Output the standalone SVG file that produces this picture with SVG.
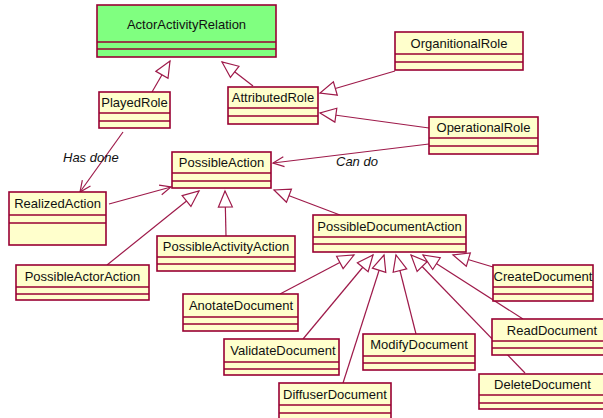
<svg xmlns="http://www.w3.org/2000/svg" width="603" height="418" viewBox="0 0 603 418">
<style>
.box{fill:#FFFFCC;stroke:#990033;stroke-width:1.6}
.green{fill:#80FF80}
.div{stroke:#990033;stroke-width:1.4}
.t{font-family:"Liberation Sans",Arial,sans-serif;font-size:13px;fill:#111;text-anchor:middle}
.lbl{font-family:"Liberation Sans",Arial,sans-serif;font-size:13px;font-style:italic;fill:#111}
.e{stroke:#9e1a4a;stroke-width:1.2;fill:none}
.gen{marker-end:url(#tri)}
.assoc{marker-end:url(#open)}
</style>
<defs>
<marker id="tri" markerUnits="userSpaceOnUse" markerWidth="18" markerHeight="16" refX="17" refY="7.5" orient="auto" overflow="visible">
<path d="M1,0.5 L17,7.5 L1,14.5 Z" fill="#fff" stroke="#9e1a4a" stroke-width="1.2"/>
</marker>
<marker id="open" markerUnits="userSpaceOnUse" markerWidth="12" markerHeight="12" refX="11" refY="5" orient="auto" overflow="visible">
<path d="M0,0 L11,5 L0,10" fill="none" stroke="#9e1a4a" stroke-width="1.2"/>
</marker>
</defs>
<g id="connectors">
<line class="e gen" x1="152" y1="92" x2="170" y2="61"/>
<line class="e gen" x1="253" y1="86" x2="222" y2="62"/>
<line class="e gen" x1="395" y1="71" x2="320" y2="93"/>
<line class="e gen" x1="429" y1="128" x2="320" y2="113"/>
<line class="e assoc" x1="429" y1="144" x2="273" y2="163"/>
<line class="e assoc" x1="123" y1="132" x2="80" y2="192"/>
<line class="e assoc" x1="109" y1="204" x2="171" y2="187"/>
<line class="e gen" x1="107" y1="265" x2="199" y2="191"/>
<line class="e gen" x1="226" y1="236" x2="225" y2="191"/>
<line class="e gen" x1="340" y1="215" x2="274" y2="190"/>
<line class="e gen" x1="280" y1="294" x2="354" y2="255"/>
<line class="e gen" x1="303" y1="339" x2="373" y2="255"/>
<line class="e gen" x1="343" y1="383" x2="384" y2="255"/>
<line class="e gen" x1="416" y1="334" x2="396" y2="255"/>
<line class="e gen" x1="525" y1="373" x2="411" y2="255"/>
<line class="e gen" x1="523" y1="319" x2="423" y2="255"/>
<line class="e gen" x1="493" y1="267" x2="453" y2="255"/>
<text class="lbl" x="63" y="162">Has done</text>
<text class="lbl" x="336" y="166">Can do</text>
</g>
<g id="ActorActivityRelation">
<rect class="box green" x="97" y="5" width="179" height="52"/>
<line class="div" x1="97" y1="42" x2="276" y2="42"/><line class="div" x1="97" y1="49" x2="276" y2="49"/>
<text class="t" x="186.5" y="28.5">ActorActivityRelation</text>
</g>
<g id="PlayedRole">
<rect class="box" x="99" y="92" width="71" height="36"/>
<line class="div" x1="99" y1="113" x2="170" y2="113"/><line class="div" x1="99" y1="121" x2="170" y2="121"/>
<text class="t" x="134.5" y="107">PlayedRole</text>
</g>
<g id="AttributedRole">
<rect class="box" x="228" y="87" width="90" height="37"/>
<line class="div" x1="228" y1="108" x2="318" y2="108"/><line class="div" x1="228" y1="116" x2="318" y2="116"/>
<text class="t" x="273" y="102">AttributedRole</text>
</g>
<g id="OrganitionalRole">
<rect class="box" x="395" y="32" width="128" height="38"/>
<line class="div" x1="395" y1="54" x2="523" y2="54"/><line class="div" x1="395" y1="62" x2="523" y2="62"/>
<text class="t" x="459" y="47.5">OrganitionalRole</text>
</g>
<g id="OperationalRole">
<rect class="box" x="429" y="117" width="109" height="37"/>
<line class="div" x1="429" y1="138" x2="538" y2="138"/><line class="div" x1="429" y1="146" x2="538" y2="146"/>
<text class="t" x="483.5" y="132">OperationalRole</text>
</g>
<g id="PossibleAction">
<rect class="box" x="172" y="152" width="99" height="36"/>
<line class="div" x1="172" y1="173" x2="271" y2="173"/><line class="div" x1="172" y1="181" x2="271" y2="181"/>
<text class="t" x="221.5" y="167">PossibleAction</text>
</g>
<g id="RealizedAction">
<rect class="box" x="9" y="192" width="97" height="53"/>
<line class="div" x1="9" y1="215" x2="106" y2="215"/><line class="div" x1="9" y1="223" x2="106" y2="223"/>
<text class="t" x="57.5" y="208">RealizedAction</text>
</g>
<g id="PossibleActivityAction">
<rect class="box" x="157" y="236" width="138" height="35"/>
<line class="div" x1="157" y1="257" x2="295" y2="257"/><line class="div" x1="157" y1="264" x2="295" y2="264"/>
<text class="t" x="226" y="251">PossibleActivityAction</text>
</g>
<g id="PossibleActorAction">
<rect class="box" x="16" y="265" width="133" height="35"/>
<line class="div" x1="16" y1="287" x2="149" y2="287"/><line class="div" x1="16" y1="294" x2="149" y2="294"/>
<text class="t" x="82.5" y="280.5">PossibleActorAction</text>
</g>
<g id="PossibleDocumentAction">
<rect class="box" x="313" y="215" width="153" height="37"/>
<line class="div" x1="313" y1="237" x2="466" y2="237"/><line class="div" x1="313" y1="244" x2="466" y2="244"/>
<text class="t" x="389.5" y="230.5">PossibleDocumentAction</text>
</g>
<g id="CreateDocument">
<rect class="box" x="493" y="265" width="100" height="36"/>
<line class="div" x1="493" y1="287" x2="593" y2="287"/><line class="div" x1="493" y1="294" x2="593" y2="294"/>
<text class="t" x="543" y="280.5" textLength="99" lengthAdjust="spacingAndGlyphs">CreateDocument</text>
</g>
<g id="AnotateDocument">
<rect class="box" x="183" y="294" width="115" height="37"/>
<line class="div" x1="183" y1="317" x2="298" y2="317"/><line class="div" x1="183" y1="324" x2="298" y2="324"/>
<text class="t" x="241" y="310">AnotateDocument</text>
</g>
<g id="ValidateDocument">
<rect class="box" x="224" y="339" width="115" height="36"/>
<line class="div" x1="224" y1="362" x2="339" y2="362"/><line class="div" x1="224" y1="369" x2="339" y2="369"/>
<text class="t" x="283" y="355">ValidateDocument</text>
</g>
<g id="ModifyDocument">
<rect class="box" x="363" y="334" width="112" height="36"/>
<line class="div" x1="363" y1="356" x2="475" y2="356"/><line class="div" x1="363" y1="363" x2="475" y2="363"/>
<text class="t" x="419" y="349">ModifyDocument</text>
</g>
<g id="DiffuserDocument">
<rect class="box" x="279" y="383" width="112" height="40"/>
<line class="div" x1="279" y1="405" x2="391" y2="405"/><line class="div" x1="279" y1="413" x2="391" y2="413"/>
<text class="t" x="335" y="398.5">DiffuserDocument</text>
</g>
<g id="ReadDocument">
<rect class="box" x="492" y="319" width="120" height="36"/>
<line class="div" x1="492" y1="341" x2="612" y2="341"/><line class="div" x1="492" y1="348" x2="612" y2="348"/>
<text class="t" x="552" y="334.5">ReadDocument</text>
</g>
<g id="DeleteDocument">
<rect class="box" x="479" y="374" width="127" height="35"/>
<line class="div" x1="479" y1="395" x2="606" y2="395"/><line class="div" x1="479" y1="403" x2="606" y2="403"/>
<text class="t" x="542.5" y="389">DeleteDocument</text>
</g>
</svg>
